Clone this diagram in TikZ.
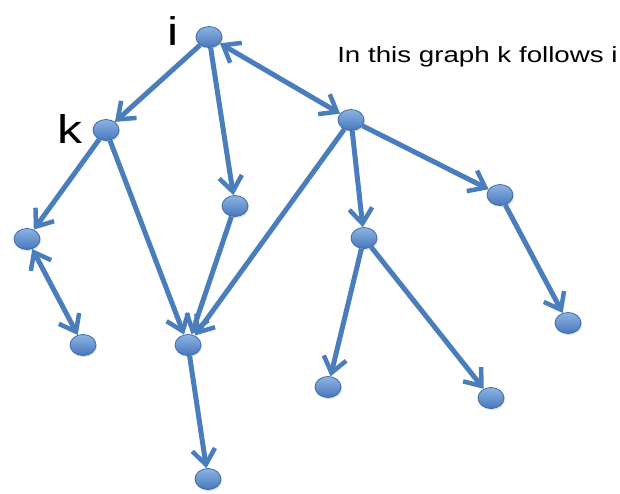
\documentclass[tikz,border=0pt]{standalone}
\usepackage{fontspec}
\setmainfont{Liberation Sans}
\usetikzlibrary{arrows.meta,shapes.geometric,shadows}
\definecolor{edgeblue}{HTML}{4A7DBB}
\definecolor{nodetop}{HTML}{8DB3E2}
\definecolor{nodebot}{HTML}{4678BE}
\definecolor{nodeline}{HTML}{3A69A8}
\tikzset{
  vtx/.style={ellipse, minimum width=26pt, minimum height=21pt, inner sep=0pt,
    draw=nodeline, line width=0.8pt, top color=nodetop, bottom color=nodebot,
    drop shadow={shadow xshift=1pt, shadow yshift=-1.5pt, opacity=0.25}},
  tip/.style={},
  link/.style={draw=edgeblue, line width=5pt,
    -{Straight Barb[length=15pt,width=23pt,line width=4.5pt]}},
  dlink/.style={draw=edgeblue, line width=5pt,
    {Straight Barb[length=15pt,width=23pt,line width=4.5pt]}-{Straight Barb[length=15pt,width=23pt,line width=4.5pt]}},
  lbl/.style={font=\fontsize{40}{40}\selectfont, xscale=1.25, inner sep=0pt, anchor=base},
}
\begin{document}
\begin{tikzpicture}[x=1pt,y=-1pt]
\useasboundingbox (0,0) rectangle (620,493);
\node[vtx] (i) at (209,37) {};
\node[vtx] (k) at (106,130) {};
\node[vtx] (a) at (351,120) {};
\node[vtx] (b) at (235,206) {};
\node[vtx] (l1) at (27,239) {};
\node[vtx] (l2) at (83,345) {};
\node[vtx] (c) at (188,345) {};
\node[vtx] (d) at (364,238) {};
\node[vtx] (e) at (500,195) {};
\node[vtx] (f) at (568,323) {};
\node[vtx] (g) at (328,387) {};
\node[vtx] (h) at (491,398) {};
\node[vtx] (j) at (208,479) {};
\draw[link] (i) -- (k);
\draw[link] (i) -- (b);
\draw[dlink] (i) -- (a);
\draw[link] (k) -- (l1);
\draw[link] (k) -- (c);
\draw[dlink] (l1) -- (l2);
\draw[link] (b) -- (c);
\draw[link] (a) -- (c);
\draw[link] (a) -- (d);
\draw[link] (a) -- (e);
\draw[link] (e) -- (f);
\draw[link] (d) -- (g);
\draw[link] (d) -- (h);
\draw[link] (c) -- (j);
\node[lbl] (li) at (173,45) {i};
\node[lbl] (lk) at (70,143) {k};
\node[font=\fontsize{22}{22}\selectfont, xscale=1.26, inner sep=0pt, anchor=base west] (title) at (337,62) {In this graph k follows i};
\end{tikzpicture}
\end{document}
